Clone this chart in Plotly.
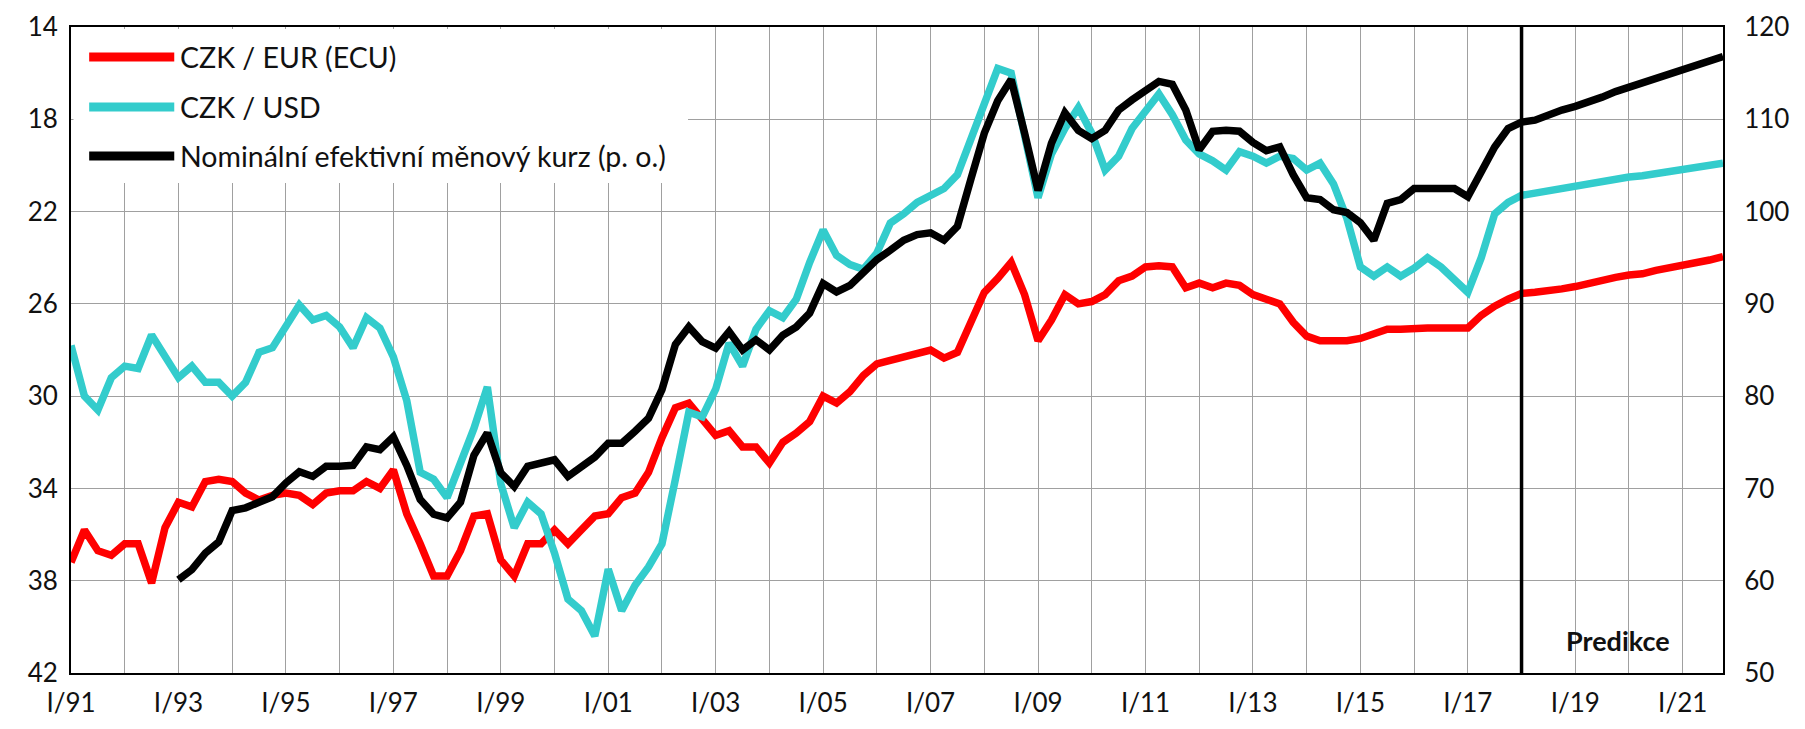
import plotly.graph_objects as go

years = list(range(1991, 2022))
roman = ["I", "II", "III", "IV"]
quarters = [f"{r}/{str(y)[2:]}" for y in years for r in roman]

czk_eur = [
    37.2, 35.8, 36.7, 36.9, 36.4, 36.4, 38.1, 35.7, 34.6, 34.8,
    33.7, 33.6, 33.7, 34.2, 34.5, 34.3, 34.2, 34.3, 34.7, 34.2,
    34.1, 34.1, 33.7, 34.0, 33.2, 35.1, 36.4, 37.8, 37.8, 36.7,
    35.2, 35.1, 37.1, 37.8, 36.4, 36.4, 35.8, 36.4, 35.8, 35.2,
    35.1, 34.4, 34.2, 33.3, 31.8, 30.5, 30.3, 31.0, 31.7, 31.5,
    32.2, 32.2, 32.9, 32.0, 31.6, 31.1, 30.0, 30.3, 29.8, 29.1,
    28.6, 28.45, 28.3, 28.1, 28.0, 28.35, 28.1, 26.8, 25.5, 24.9,
    24.2, 25.6, 27.6, 26.7, 25.6, 26.0, 25.9, 25.6, 25.0, 24.8,
    24.4, 24.35, 24.4, 25.3, 25.1, 25.3, 25.1, 25.2, 25.6, 25.8,
    26.0, 26.8, 27.4, 27.6, 27.6, 27.6, 27.5, 27.3, 27.1, 27.1,
    27.05, 27.05, 27.05, 27.05, 27.05, 26.5, 26.1, 25.8, 25.55, 25.5,
    25.45, 25.35, 25.25, 25.1, 25.0, 24.85, 24.75, 24.7, 24.55, 24.45,
    24.35, 24.25, 24.1, 23.95,
]

czk_usd = [
    27.8, 30.0, 30.6, 29.2, 28.7, 28.8, 27.35, 28.3, 29.2, 28.7,
    29.4, 29.4, 30.0, 29.4, 28.1, 27.9, 27.0, 26.05, 26.7, 26.5,
    27.0, 27.9, 26.6, 27.05, 28.3, 30.2, 33.3, 33.6, 34.4, 33.0,
    31.4, 29.6, 33.8, 35.7, 34.6, 35.1, 36.8, 38.8, 39.3, 40.4,
    37.5, 39.3, 38.2, 37.4, 36.4, 33.6, 30.7, 30.9, 29.7, 27.7,
    28.7, 27.1, 26.3, 26.6, 25.8, 24.2, 22.8, 23.9, 24.3, 24.5,
    23.8, 22.5, 22.1, 21.6, 21.3, 21.0, 20.4, 18.9, 17.2, 15.8,
    16.0, 18.6, 21.4, 19.5, 18.4, 17.5, 18.6, 20.2, 19.6, 18.4,
    17.7, 16.9, 17.8, 18.9, 19.5, 19.8, 20.2, 19.4, 19.6, 19.9,
    19.6, 19.7, 20.2, 19.9, 20.8, 22.3, 24.4, 24.8, 24.4, 24.8,
    24.45, 24.0, 24.4, 25.0, 25.5, 24.0, 22.1, 21.6, 21.3, 21.2,
    21.1, 21.0, 20.9, 20.8, 20.7, 20.55, 20.5, 20.45, 20.35, 20.25,
    20.2, 20.1, 20.0, 19.9,
]

neer = [
    None, None, None, None, None, None, None, None, 60.1, 61.2,
    63.0, 64.2, 67.6, 67.9, 68.5, 69.1, 70.6, 71.8, 71.3, 72.4,
    72.4, 72.5, 74.5, 74.2, 75.6, 72.5, 68.8, 67.2, 66.8, 68.5,
    73.6, 76.0, 71.7, 70.2, 72.4, 72.8, 73.1, 71.3, 72.4, 73.4,
    74.9, 74.9, 76.2, 77.6, 80.7, 85.6, 87.5, 85.9, 85.2, 87.0,
    85.0, 86.1, 85.0, 86.6, 87.5, 89.0, 92.2, 91.3, 92.0, 93.5,
    94.8, 95.8, 96.9, 97.5, 97.7, 96.9, 98.4, 103.5, 108.5, 112.0,
    114.3, 108.5, 102.3, 107.4, 110.7, 108.8, 107.9, 108.8, 111.0, 112.1,
    113.2, 114.1, 113.8, 111.0, 106.7, 108.7, 108.8, 108.7, 107.5, 106.6,
    107.0, 104.0, 101.5, 101.3, 100.2, 99.9, 98.8, 96.9, 100.9, 101.3,
    102.5, 102.5, 102.5, 102.5, 101.6, 104.2, 107.0, 109.0, 109.7, 109.9,
    110.5, 111.0, 111.4, 111.8, 112.4, 113.0, 113.5, 114.0, 114.4, 114.9,
    115.3, 115.8, 116.3, 116.8,
]

series_names = ["CZK / EUR (ECU)", "CZK / USD", "Nominální efektivní měnový kurz (p. o.)"]
series_colors = ["#ff0000", "#33cccc", "#000000"]
forecast_start = "I/18"
forecast_label = "Predikce"

left_ticks = [14, 18, 22, 26, 30, 34, 38, 42]
right_ticks = [50, 60, 70, 80, 90, 100, 110, 120]

FONT = "Lato, 'Open Sans', sans-serif"

fig = go.Figure()
fig.add_trace(go.Scatter(x=quarters, y=czk_eur, mode="lines", name=series_names[0],
                         line=dict(color=series_colors[0], width=7.5), yaxis="y"))
fig.add_trace(go.Scatter(x=quarters, y=czk_usd, mode="lines", name=series_names[1],
                         line=dict(color=series_colors[1], width=7.5), yaxis="y"))
fig.add_trace(go.Scatter(x=quarters, y=neer, mode="lines", name=series_names[2],
                         line=dict(color=series_colors[2], width=7.5), yaxis="y2"))

tickvals = quarters[::4]
ticktext = [q if (k % 2 == 0) else "" for k, q in enumerate(tickvals)]

fig.update_layout(
    width=1789, height=713,
    margin=dict(l=63, r=74, t=19, b=48, autoexpand=False),
    paper_bgcolor="white", plot_bgcolor="white",
    showlegend=False,
    font=dict(family=FONT, size=26, color="#111111"),
    xaxis=dict(type="category", categoryorder="array", categoryarray=quarters,
               range=[0, len(quarters) - 1], tickvals=tickvals, ticktext=ticktext,
               showgrid=True, gridcolor="#a0a0a0", gridwidth=1.3, automargin=False,
               showline=True, linecolor="black", linewidth=2, mirror=True,
               ticks="", ticklabelstandoff=6, tickfont=dict(size=26)),
    yaxis=dict(range=[42, 14], tickvals=left_ticks, showgrid=True, gridcolor="#a0a0a0",
               gridwidth=1.3, showline=True, linecolor="black", linewidth=2, mirror=True,
               automargin=False,
               ticks="", ticklabelstandoff=6, zeroline=False, tickfont=dict(size=26)),
    yaxis2=dict(range=[50, 120], tickvals=right_ticks, overlaying="y", side="right",
                showgrid=False, showline=True, linecolor="black", linewidth=2,
                automargin=False,
                ticks="", ticklabelstandoff=14, zeroline=False, tickfont=dict(size=26)),
)

# forecast divider
fig.add_shape(type="line", xref="x", yref="paper", x0=forecast_start, x1=forecast_start,
              y0=0, y1=1, line=dict(color="black", width=3.5), layer="above")
fig.add_annotation(text=f"<b>{forecast_label}</b>", xref="paper", yref="paper",
                   x=0.9365, y=0.05, showarrow=False, font=dict(size=27, color="#111111"),
                   xanchor="center", yanchor="middle")

# custom legend (white box over gridlines)
fig.add_shape(type="rect", xref="paper", yref="paper", x0=0.0015, x1=0.3735, y0=0.7585, y1=0.997,
              fillcolor="white", line=dict(width=0), layer="above")
leg_y = [0.9535, 0.876, 0.8005]
for name, color, yy in zip(series_names, series_colors, leg_y):
    fig.add_shape(type="line", xref="paper", yref="paper", x0=0.011, x1=0.0625, y0=yy, y1=yy,
                  line=dict(color=color, width=9), layer="above")
    fig.add_annotation(text=name, xref="paper", yref="paper", x=0.065, y=yy, showarrow=False,
                       xanchor="left", yanchor="middle", font=dict(size=28.5, color="#111111"))

fig.write_html("out.html")
